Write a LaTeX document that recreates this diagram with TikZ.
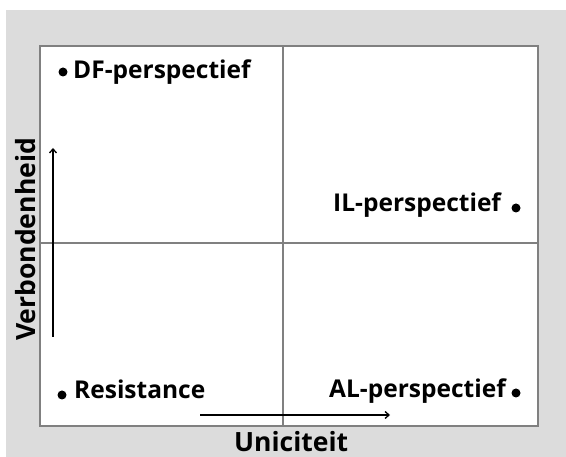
\documentclass[tikz,border=0pt]{standalone}
\usepackage{fontspec}
\setmainfont{Open Sans}
\usetikzlibrary{arrows.meta}
\definecolor{bggrey}{HTML}{DCDCDC}
\definecolor{frame}{HTML}{808080}
\tikzset{
  lbl/.style={inner sep=0pt, anchor=base west, font=\fontsize{24.5}{29}\selectfont\bfseries},
  axislbl/.style={lbl, font=\fontsize{26.5}{30}\selectfont\bfseries},
  dot/.style={circle, fill=black, inner sep=0pt, minimum size=9pt},
  axisarrow/.style={line width=1.3pt, -{Straight Barb[length=4pt,width=7pt]}},
  gridline/.style={draw=frame, line width=1.5pt}
}
\begin{document}
\begin{tikzpicture}[x=1pt,y=-1pt]
\useasboundingbox (0,0) rectangle (566,457);
\fill[bggrey] (6,10) rectangle (566,457);
\fill[white] (40,46) rectangle (538,426);
\coordinate (tl) at (40,46);
\coordinate (br) at (538,426);
\coordinate (mt) at (283,46);
\coordinate (mb) at (283,426);
\coordinate (ml) at (40,243);
\coordinate (mr) at (538,243);
\draw[gridline] (tl) rectangle (br);
\draw[gridline] (mt) -- (mb);
\draw[gridline] (ml) -- (mr);
% axes
\coordinate (va) at (53,337);
\coordinate (vb) at (53,148);
\coordinate (ha) at (200,415);
\coordinate (hb) at (390,415);
\draw[axisarrow] (va) -- (vb);
\draw[axisarrow] (ha) -- (hb);
% points
\node[dot] (d1) at (63,72) {};
\node[lbl] (t1) at (73,79) {DF-perspectief};
\node[dot] (d2) at (516,208) {};
\node[lbl] (t2) at (333,212) {IL-perspectief};
\node[dot] (d3) at (62,395) {};
\node[lbl] (t3) at (74,399) {Resistance};
\node[dot] (d4) at (516,393) {};
\node[lbl] (t4) at (329,398) {AL-perspectief};
\node[axislbl, rotate=90] (yl) at (35,341) {Verbondenheid};
\node[axislbl] (xl) at (234,452) {Uniciteit};
\end{tikzpicture}
\end{document}
